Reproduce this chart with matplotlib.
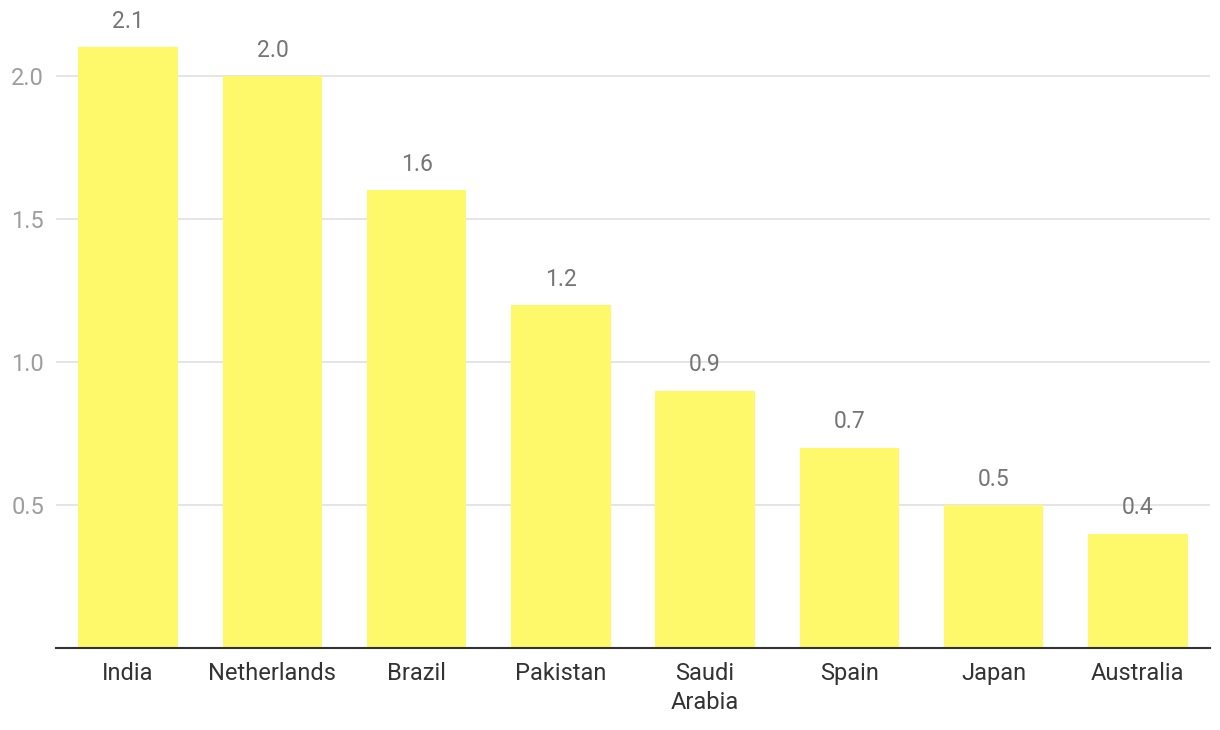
import matplotlib
matplotlib.use("Agg")
from matplotlib import pyplot as plt

countries = ["India", "Netherlands", "Brazil", "Pakistan", "Saudi\nArabia",
             "Spain", "Japan", "Australia"]
values = [2.1, 2.0, 1.6, 1.2, 0.9, 0.7, 0.5, 0.4]
y_ticks = [0.5, 1.0, 1.5, 2.0]

plt.rcParams["font.family"] = ["Roboto", "DejaVu Sans"]

fig = plt.figure(figsize=(12.2, 7.3), dpi=100)
ax = fig.add_axes([56 / 1220, 82 / 730, 1154 / 1220, 629.2 / 730])

x = range(len(values))
ax.bar(x, values, width=0.69, color="#fdf96a", zorder=2)
for i, v in zip(x, values):
    ax.text(i, v + 0.05, f"{v:.1f}", ha="center", va="bottom",
            fontsize=16.5, color="#757575")

ax.set_xlim(-0.5, len(values) - 0.5)
ax.set_ylim(0, 2.2)
ax.set_yticks(y_ticks)
ax.set_yticklabels([f"{t:.1f}" for t in y_ticks])
ax.set_xticks(list(x))
ax.set_xticklabels(countries, linespacing=1.36)
ax.tick_params(axis="y", length=0, pad=8.5, labelsize=17, labelcolor="#9e9e9e")
ax.tick_params(axis="x", length=0, pad=10, labelsize=17, labelcolor="#333333")
for t in ax.get_xticklabels():
    t.set_verticalalignment("top")

ax.grid(axis="y", color="#e0e0e0", linewidth=1.2, zorder=0)
for s in ["top", "right", "left"]:
    ax.spines[s].set_visible(False)
ax.spines["bottom"].set_color("#333333")
ax.spines["bottom"].set_linewidth(1.5)
ax.spines["bottom"].set_zorder(3)

fig.savefig("out.png", dpi=100)
